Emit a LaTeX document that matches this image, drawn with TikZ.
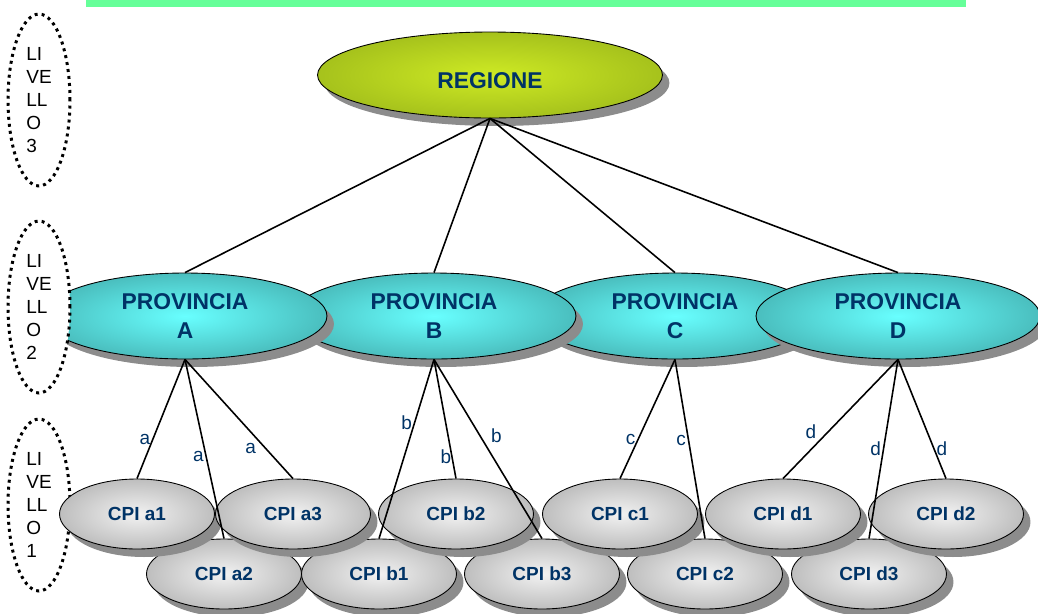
\documentclass[tikz,border=0pt]{standalone}
\usepackage{fontspec}
\setmainfont{Liberation Sans}
\usetikzlibrary{shapes.geometric,shadows}

\definecolor{txtblue}{RGB}{0,51,102}
\definecolor{barGreen}{RGB}{102,255,153}
\definecolor{shadowgray}{RGB}{140,140,140}
\definecolor{regOut}{RGB}{166,194,28}
\definecolor{regIn}{RGB}{206,234,36}
\definecolor{provOut}{RGB}{74,190,190}
\definecolor{provIn}{RGB}{104,255,255}
\definecolor{cpiOut}{RGB}{190,190,190}
\definecolor{cpiIn}{RGB}{242,242,242}

\tikzset{
    oval/.style={ellipse, draw=black, line width=0.5pt, inner sep=0pt,
        drop shadow={shadow xshift=0.14cm, shadow yshift=-0.16cm,
            fill=shadowgray, opacity=1},
        text=txtblue, align=center},
    regbox/.style={oval, shading=radial, inner color=regIn, outer color=regOut,
        minimum width=6.9cm, minimum height=1.72cm,
        font=\fontsize{13pt}{16.4pt}\selectfont\bfseries},
    provbox/.style={oval, shading=radial, inner color=provIn, outer color=provOut,
        minimum width=5.68cm, minimum height=1.72cm,
        font=\fontsize{13pt}{16.4pt}\selectfont\bfseries},
    cpibox/.style={oval, shading=radial, inner color=cpiIn, outer color=cpiOut,
        minimum width=3.1cm, minimum height=1.4cm,
        font=\fontsize{10.8pt}{13pt}\selectfont\bfseries},
    levelbox/.style={ellipse, draw=black, fill=white, line width=1.7pt,
        dash pattern=on 1.7pt off 2.3pt, inner sep=0pt, align=left,
        minimum width=1.24cm, minimum height=3.44cm,
        font=\fontsize{10.8pt}{13.2pt}\selectfont},
    conn/.style={line width=0.9pt},
    lbl/.style={text=txtblue, inner sep=1pt, font=\fontsize{10.8pt}{13pt}\selectfont}
}

\begin{document}
\begin{tikzpicture}[x=0.02cm, y=-0.02cm]
    \useasboundingbox (0,0) rectangle (1038,613);

    % --- Title bar (cut off) ---
    \fill[barGreen] (86,0) rectangle (966,7);

    % --- Level 3 ---
    \node[regbox] (regione) at (490,75) {\raisebox{-3.4pt}[\height][\depth]{REGIONE}};

    % --- Level 2 (C first, A over B, D over C) ---
    \node[provbox] (provC) at (675,316) {PROVINCIA\\C};
    \node[provbox] (provB) at (434,316) {PROVINCIA\\B};
    \node[provbox] (provA) at (185,316) {PROVINCIA\\A};
    \node[provbox] (provD) at (898,316) {PROVINCIA\\D};

    % --- Levels (white, over province A) ---
    \node[levelbox] (liv3) at (39,100) {LI\\VE\\LL\\O\\3};
    \node[levelbox] (liv2) at (39,307) {LI\\VE\\LL\\O\\2};
    \node[levelbox] (liv1) at (39,505) {LI\\VE\\LL\\O\\1};

    % --- Level 1, back row ---
    \node[cpibox] (cpiA2) at (224,574) {CPI a2};
    \node[cpibox] (cpiB1) at (379,574) {CPI b1};
    \node[cpibox] (cpiB3) at (542,574) {CPI b3};
    \node[cpibox] (cpiC2) at (705,574) {CPI c2};
    \node[cpibox] (cpiD3) at (869,574) {CPI d3};

    % --- Level 1, front row ---
    \node[cpibox] (cpiA1) at (137,514) {CPI a1};
    \node[cpibox] (cpiA3) at (293,514) {CPI a3};
    \node[cpibox] (cpiB2) at (456,514) {CPI b2};
    \node[cpibox] (cpiC1) at (620,514) {CPI c1};
    \node[cpibox] (cpiD1) at (783,514) {CPI d1};
    \node[cpibox] (cpiD2) at (946,514) {CPI d2};

    % --- Region to provinces ---
    \foreach \p in {provA,provB,provC,provD}
        \draw[conn] (regione.south) -- (\p.north);

    % --- Provinces to CPI ---
    \draw[conn] (provA.south) -- node[lbl, pos=.675, left] {a} (cpiA1.north);
    \draw[conn] (provA.south) -- node[lbl, pos=.544, left] {a} (cpiA2.north);
    \draw[conn] (provA.south) -- node[lbl, pos=.68, below left] {a} (cpiA3.north);

    \draw[conn] (provB.south) -- node[lbl, pos=.356, left] {b} (cpiB1.north);
    \draw[conn] (provB.south) -- node[lbl, pos=.817, left, inner sep=0pt] {b} (cpiB2.north);
    \draw[conn] (provB.south) -- node[lbl, pos=.49, above right, inner sep=2pt] {b} (cpiB3.north);

    \draw[conn] (provC.south) -- node[lbl, pos=.675, left] {c} (cpiC1.north);
    \draw[conn] (provC.south) -- node[lbl, pos=.45, left] {c} (cpiC2.north);

    \draw[conn] (provD.south) -- node[lbl, pos=.69, above left] {d} (cpiD1.north);
    \draw[conn] (provD.south) -- node[lbl, pos=.5, left] {d} (cpiD3.north);
    \draw[conn] (provD.south) -- node[lbl, pos=.75, right] {d} (cpiD2.north);
\end{tikzpicture}
\end{document}
